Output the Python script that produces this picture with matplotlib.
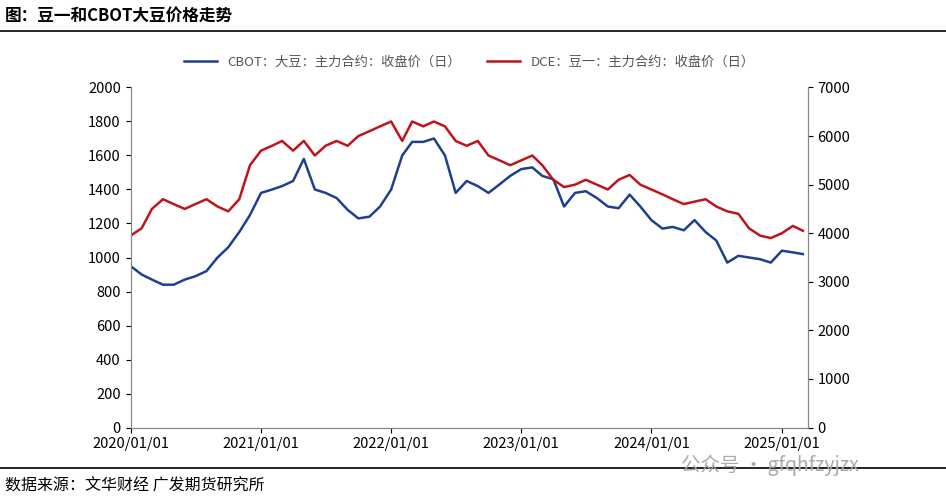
import matplotlib
matplotlib.use("Agg")
import matplotlib.pyplot as plt
import pandas as pd

plt.rcParams['font.family'] = ['Noto Sans CJK SC', 'DejaVu Sans']

dates = pd.date_range("2020-01-01", "2025-03-01", freq="MS")
cbot = [950, 900, 870, 840, 840, 870, 890, 920, 1000, 1060, 1150, 1250,
        1380, 1400, 1420, 1450, 1580, 1400, 1380, 1350, 1280, 1230, 1240, 1300,
        1400, 1600, 1680, 1680, 1700, 1600, 1380, 1450, 1420, 1380, 1430, 1480,
        1520, 1530, 1480, 1460, 1300, 1380, 1390, 1350, 1300, 1290, 1370, 1300,
        1220, 1170, 1180, 1160, 1220, 1150, 1100, 970, 1010, 1000, 990, 970,
        1040, 1030, 1020]
dce = [3950, 4100, 4500, 4700, 4600, 4500, 4600, 4700, 4550, 4450, 4700, 5400,
       5700, 5800, 5900, 5700, 5900, 5600, 5800, 5900, 5800, 6000, 6100, 6200,
       6300, 5900, 6300, 6200, 6300, 6200, 5900, 5800, 5900, 5600, 5500, 5400,
       5500, 5600, 5400, 5100, 4950, 5000, 5100, 5000, 4900, 5100, 5200, 5000,
       4900, 4800, 4700, 4600, 4650, 4700, 4550, 4450, 4400, 4100, 3950, 3900,
       4000, 4150, 4050]
xticks = ["2020/01/01", "2021/01/01", "2022/01/01", "2023/01/01", "2024/01/01", "2025/01/01"]

fig = plt.figure(figsize=(9.46, 5.0), dpi=100)
ax = fig.add_axes([0.138, 0.145, 0.716, 0.68])
ax2 = ax.twinx()
l1, = ax.plot(dates, cbot, color='#1f3f8f', lw=1.8, label='CBOT：大豆：主力合约：收盘价（日）')
l2, = ax2.plot(dates, dce, color='#c0141c', lw=1.8, label='DCE：豆一：主力合约：收盘价（日）')
ax.set_ylim(0, 2000); ax.set_yticks(range(0, 2001, 200))
ax2.set_ylim(0, 7000); ax2.set_yticks(range(0, 7001, 1000))
ax.set_xlim(pd.Timestamp("2020-01-01"), pd.Timestamp("2025-03-15"))
ax.set_xticks([pd.Timestamp(t.replace('/', '-')) for t in xticks])
ax.set_xticklabels(xticks)
for a in (ax, ax2):
    a.tick_params(labelsize=10.5, direction='out')
    a.spines['top'].set_visible(False)
    for s in a.spines.values():
        s.set_color('#888888')
ax.legend(handles=[l1, l2], loc='lower center', bbox_to_anchor=(0.5, 1.02), ncol=2,
          frameon=False, fontsize=9.5, handlelength=2.5, labelcolor='#555555')

fig.text(0.005, 0.968, "图：豆一和CBOT大豆价格走势", fontsize=12, fontweight='bold', va='center')
fig.add_artist(plt.Line2D([0, 1], [0.938, 0.938], color='black', lw=1.2))
fig.add_artist(plt.Line2D([0, 1], [0.065, 0.065], color='black', lw=1.2))
fig.text(0.005, 0.028, "数据来源：文华财经 广发期货研究所", fontsize=11.5, va='center')
fig.text(0.72, 0.07, "公众号 · gfqhfzyjzx", fontsize=14, color='#aaaaaa', va='center')
fig.savefig("out.png", dpi=100)
